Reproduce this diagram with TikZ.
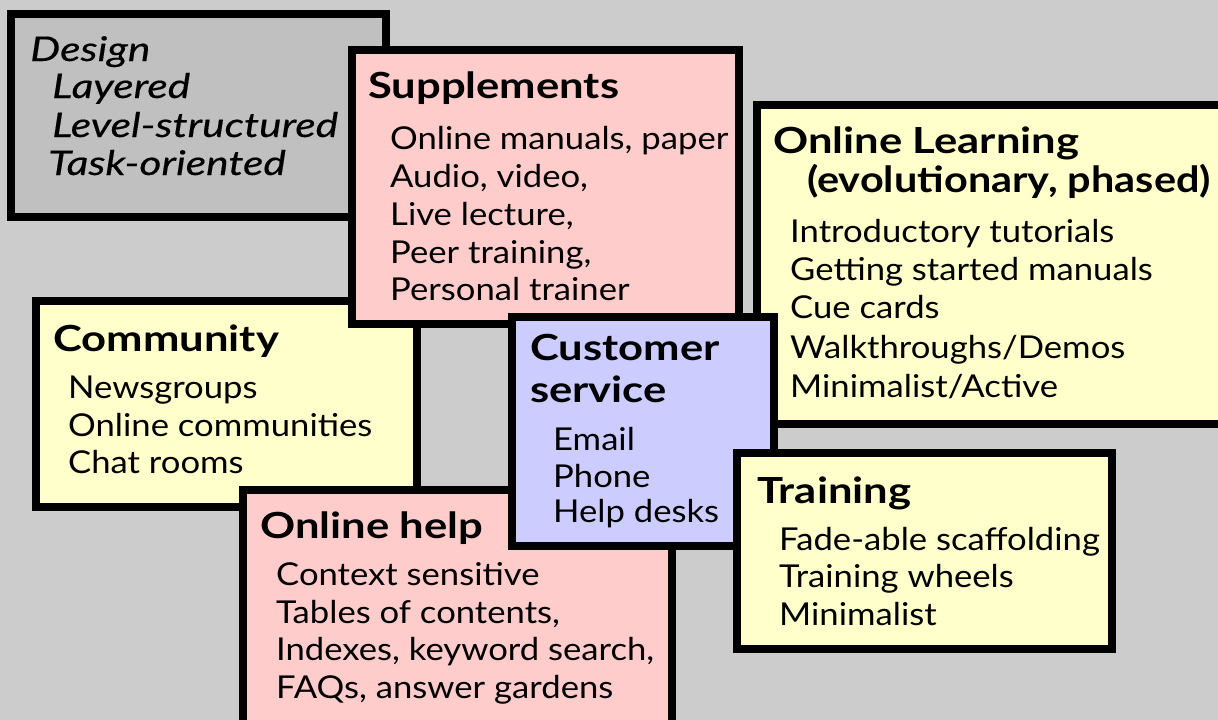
\documentclass[tikz,border=0pt]{standalone}
\usepackage{fontspec}
\setmainfont{Lato}
\newfontfamily\bodyfont[FakeStretch=1.10]{Lato}
\newfontfamily\headfont[FakeStretch=1.21]{Lato}
\newfontfamily\headnarrowfont[FakeStretch=1.15]{Lato}
\newfontfamily\italfont[FakeStretch=1.25,FakeBold=0.4]{Lato}
\definecolor{bggray}{HTML}{CCCCCC}
\definecolor{designgray}{HTML}{C0C0C0}
\definecolor{pinkfill}{HTML}{FFCCCC}
\definecolor{yellowfill}{HTML}{FFFFCC}
\definecolor{bluefill}{HTML}{CCCCFF}
\tikzset{
  card/.style={draw=black, line width=8pt, rectangle, inner sep=0pt, outer sep=0pt, anchor=north west},
  head/.style={anchor=base west, inner sep=0pt, font=\headfont\fontsize{36}{40}\selectfont\bfseries},
  headnarrow/.style={anchor=base west, inner sep=0pt, font=\headnarrowfont\fontsize{36}{40}\selectfont\bfseries},
  item/.style={anchor=base west, inner sep=0pt, font=\bodyfont\fontsize{31.5}{36}\selectfont},
  ital/.style={anchor=base west, inner sep=0pt, font=\italfont\fontsize{34}{38}\selectfont\itshape},
}
% a card given by its outer corners (left, top, right, bottom), in pixels
\newcommand{\cardbox}[6]{%
  \node[card, fill=#2, minimum width={#5-#3-8}, minimum height={#6-#4-8}] (#1) at ({#3+4},{#4+4}) {};}
\begin{document}
\begin{tikzpicture}[x=1pt,y=-1pt]
\useasboundingbox (0,0) rectangle (1218,720);
\clip (0,0) rectangle (1218,720);
\fill[bggray] (0,0) rectangle (1218,720);

% Design
\cardbox{design}{designgray}{7}{10}{390}{221}
\node[ital] (d1) at (30,61) {Design};
\node[ital] (d2) at (52,98) {Layered};
\node[ital] (d3) at (52,137) {Level-structured};
\node[ital] (d4) at (48,175) {Task-oriented};

% Community
\cardbox{community}{yellowfill}{32}{297}{421}{511}
\node[head] (c0) at (53,351) {Community};
\node[item] (c1) at (68,398) {Newsgroups};
\node[item] (c2) at (68,436) {Online communities};
\node[item] (c3) at (68,473) {Chat rooms};

% Supplements
\cardbox{supplements}{pinkfill}{348}{46}{743}{328}
\node[head] (s0) at (368,98) {Supplements};
\node[item] (s1) at (390,149) {Online manuals, paper};
\node[item] (s2) at (390,187) {Audio, video,};
\node[item] (s3) at (390,225) {Live lecture,};
\node[item] (s4) at (390,263) {Peer training,};
\node[item] (s5) at (390,300) {Personal trainer};

% Online learning
\cardbox{learning}{yellowfill}{753}{101}{1240}{428}
\node[head] (l0) at (773,153) {Online Learning};
\node[headnarrow] (l1) at (807,192) {(evolutionary, phased)};
\node[item] (l2) at (790,242) {Introductory tutorials};
\node[item] (l3) at (790,280) {Getting started manuals};
\node[item] (l4) at (790,318) {Cue cards};
\node[item] (l5) at (790,358) {Walkthroughs/Demos};
\node[item] (l6) at (790,397) {Minimalist/Active};

% Online help
\cardbox{onlinehelp}{pinkfill}{239}{486}{676}{740}
\node[head] (h0) at (260,538) {Online help};
\node[item] (h1) at (276,585) {Context sensitive};
\node[item] (h2) at (276,623) {Tables of contents,};
\node[item] (h3) at (276,660) {Indexes, keyword search,};
\node[item] (h4) at (276,698) {FAQs, answer gardens};

% Customer service
\cardbox{customer}{bluefill}{508}{313}{778}{550}
\node[head] (u0) at (530,360) {Customer};
\node[head] (u1) at (530,402) {service};
\node[item] (u2) at (553,450) {Email};
\node[item] (u3) at (553,487) {Phone};
\node[item] (u4) at (553,522) {Help desks};

% Training
\cardbox{training}{yellowfill}{733}{449}{1116}{653}
\node[head] (t0) at (757,503) {Training};
\node[item] (t1) at (779,550) {Fade-able scaffolding};
\node[item] (t2) at (779,587) {Training wheels};
\node[item] (t3) at (779,625) {Minimalist};
\end{tikzpicture}
\end{document}
